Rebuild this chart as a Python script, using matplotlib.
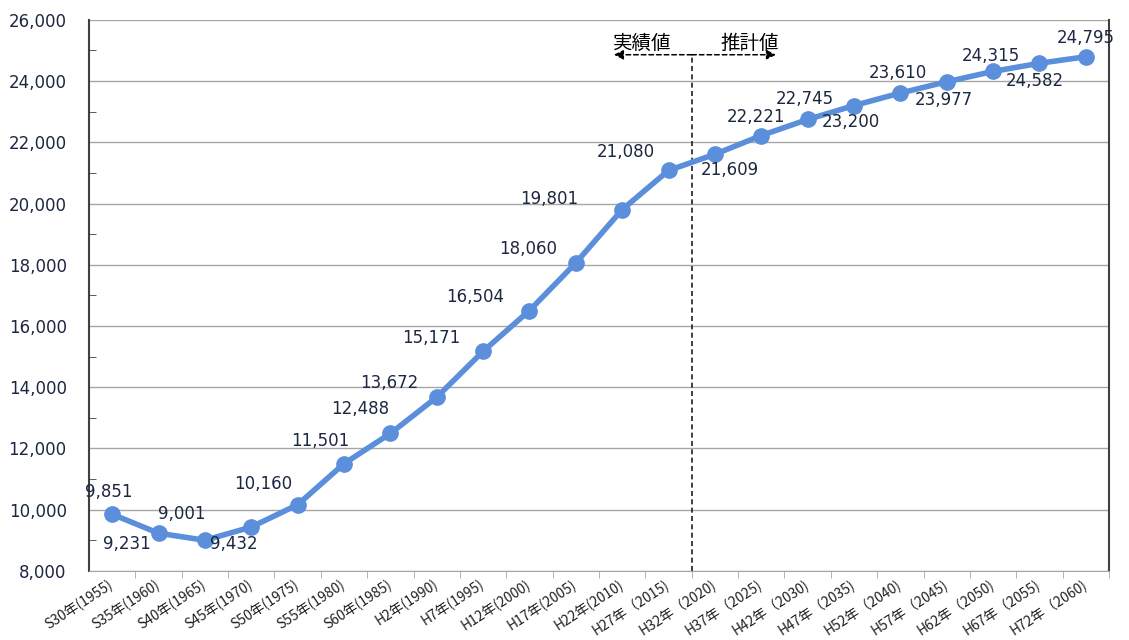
import matplotlib.pyplot as plt
import numpy as np

plt.rcParams['font.family'] = ['DejaVu Sans', 'Noto Sans CJK JP']

# data
categories = ['S30年(1955)', 'S35年(1960)', 'S40年(1965)', 'S45年(1970)', 'S50年(1975)',
              'S55年(1980)', 'S60年(1985)', 'H2年(1990)', 'H7年(1995)', 'H12年(2000)',
              'H17年(2005)', 'H22年(2010)', 'H27年（2015)', 'H32年（2020)', 'H37年（2025)',
              'H42年（2030)', 'H47年（2035)', 'H52年（2040)', 'H57年（2045)', 'H62年（2050)',
              'H67年（2055)', 'H72年（2060)']
population = [9851, 9231, 9001, 9432, 10160, 11501, 12488, 13672, 15171, 16504, 18060,
              19801, 21080, 21609, 22221, 22745, 23200, 23610, 23977, 24315, 24582, 24795]
# label offsets in pixels (dx, dy) from each point
label_offsets = [(-3, 22), (-32, -11), (-23, 26), (-17, -17), (-34, 21), (-24, 23), (-30, 24),
                 (-47, 14), (-52, 13), (-54, 14), (-48, 14), (-73, 11), (-43, 18), (15, -16),
                 (-5, 19), (-3, 20), (-3, -16), (-2, 20), (-3, -18), (-2, 15), (-5, -18), (0, 19)]

text_color = '#1c2740'
line_color = '#5b8fdb'

fig = plt.figure(figsize=(11.29, 6.4), dpi=100)
ax = fig.add_axes([0.0788, 0.108, 0.9035, 0.861])

x = np.arange(len(categories))
ax.plot(x, population, color=line_color, lw=4, marker='o', ms=11, solid_capstyle='round', zorder=3)

for xi, yi, (dx, dy) in zip(x, population, label_offsets):
    ax.annotate(f'{yi:,}', (xi, yi), xytext=(dx, dy), textcoords='offset pixels',
                ha='center', va='center', fontsize=12, color=text_color)

ax.set_xlim(-0.5, len(categories) - 0.5)
ax.set_ylim(8000, 26000)
ax.set_yticks(np.arange(8000, 26001, 2000))
ax.set_yticks(np.arange(9000, 26000, 2000), minor=True)
ax.set_yticklabels([f'{v:,}' for v in range(8000, 26001, 2000)], fontsize=12, color=text_color)
ax.tick_params(axis='y', which='major', length=0, pad=16)
ax.tick_params(axis='y', which='minor', direction='in', length=5, color='#404040')
ax.grid(axis='y', color='#a6a6a6', lw=1)
ax.set_axisbelow(True)

ax.set_xticks(x + 0.5, minor=True)
ax.set_xticks(x)
ax.set_xticklabels(categories, rotation=33, ha='right', va='center', rotation_mode='anchor',
                   fontsize=10, family=['Noto Sans CJK JP'], color='#202020')
ax.tick_params(axis='x', which='major', length=0, pad=9)
ax.tick_params(axis='x', which='minor', length=5, color='#a6a6a6')

for s in ['left', 'right']:
    ax.spines[s].set_color('#404040')
    ax.spines[s].set_linewidth(1.5)
ax.spines['bottom'].set_color('#a6a6a6')
ax.spines['top'].set_visible(False)

# actual / projected divider
arrow_y = 24860
ax.axvline(12.5, ymin=0, ymax=(arrow_y - 8000) / 18000, color='#202020', ls=(0, (3, 2)), lw=1.2)
for end in (10.82, 14.32):
    ax.annotate('', xy=(end, arrow_y), xytext=(12.5, arrow_y),
                arrowprops=dict(arrowstyle='-|>', ls=(0, (3, 2)), color='black', lw=1.1,
                                mutation_scale=14, shrinkA=0, shrinkB=0))
ax.text(11.43, 25220, '実績値', family=['Noto Sans CJK JP'], fontsize=14, ha='center', va='center')
ax.text(13.76, 25220, '推計値', family=['Noto Sans CJK JP'], fontsize=14, ha='center', va='center')

fig.savefig('out.png', dpi=100)
